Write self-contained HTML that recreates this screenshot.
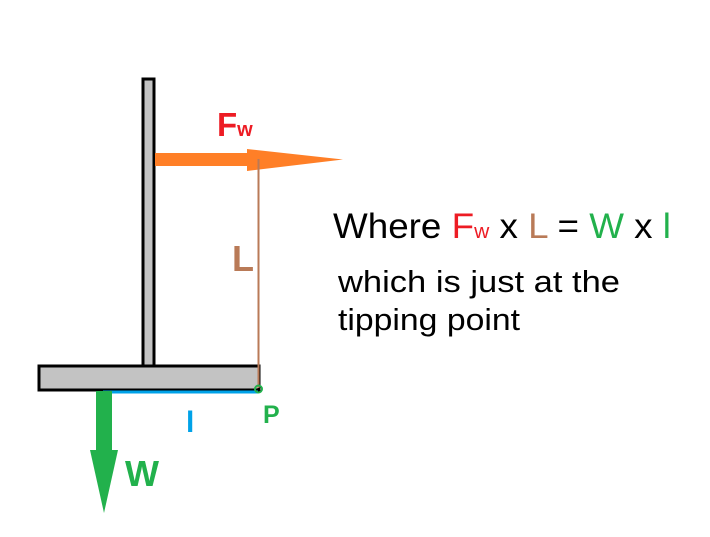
<!DOCTYPE html>
<html><head><meta charset="utf-8"><style>html,body{margin:0;padding:0;background:#fff}svg{display:block}</style></head>
<body>
<svg width="710" height="537" xmlns="http://www.w3.org/2000/svg" font-family="Liberation Sans, Arial, sans-serif">
<rect x="143" y="79" width="11" height="288" fill="#c3c3c3" stroke="#000" stroke-width="3"/>
<rect x="39" y="366" width="220" height="24" fill="#c3c3c3" stroke="#000" stroke-width="3"/>
<rect x="155" y="153" width="94" height="13" fill="#ff7f27"/>
<polygon points="247,149 343,159.5 247,171" fill="#ff7f27"/>
<line x1="258.5" y1="159" x2="258.5" y2="388" stroke="#b97a57" stroke-width="2"/>
<line x1="103" y1="392" x2="258" y2="392" stroke="#00a2e8" stroke-width="3"/>
<circle cx="258.5" cy="389" r="3.5" fill="none" stroke="#22b14c" stroke-width="2"/>
<rect x="96" y="391" width="16" height="60" fill="#22b14c"/>
<polygon points="90,450 118,450 104,513" fill="#22b14c"/>
<text x="217" y="136" font-size="33" font-weight="bold" fill="#ed1c24">F<tspan font-size="20">w</tspan></text>
<text x="232" y="271" font-size="36" font-weight="bold" fill="#b97a57">L</text>
<text x="186" y="432" font-size="30" font-weight="bold" fill="#00a2e8">l</text>
<text x="263" y="423" font-size="25" font-weight="bold" fill="#22b14c">P</text>
<text x="125" y="486" font-size="36" font-weight="bold" fill="#22b14c">W</text>
<text x="333" y="238" font-size="35" textLength="338" lengthAdjust="spacingAndGlyphs">Where <tspan fill="#ed1c24">F<tspan font-size="20">w</tspan></tspan> x <tspan fill="#b97a57">L</tspan> = <tspan fill="#22b14c">W</tspan> x <tspan fill="#22b14c">l</tspan></text>
<text x="338" y="292" font-size="31" textLength="282" lengthAdjust="spacingAndGlyphs">which is just at the</text>
<text x="338" y="330" font-size="31" textLength="182" lengthAdjust="spacingAndGlyphs">tipping point</text>
</svg>
</body></html>
